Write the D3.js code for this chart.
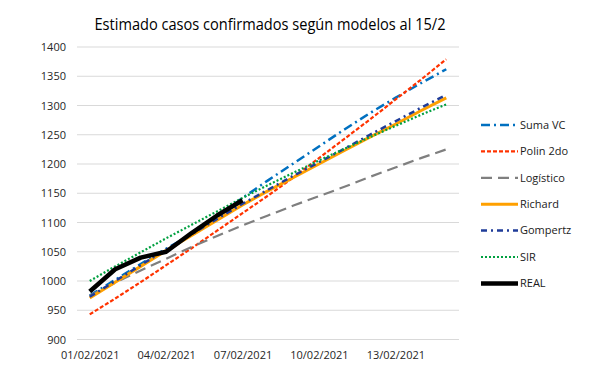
<!DOCTYPE html>
<html>
<head>
<meta charset="utf-8">
<script src="https://cdn.jsdelivr.net/npm/d3@7"></script>
<style>
  body { margin: 0; background: #fff; }
  text { font-family: "Open Sans", sans-serif; }
</style>
</head>
<body>
<div id="chart"></div>
<script>
// dates on the x axis (one per day)
const dates = ["01/02/2021", "02/02/2021", "03/02/2021", "04/02/2021", "05/02/2021",
  "06/02/2021", "07/02/2021", "08/02/2021", "09/02/2021", "10/02/2021",
  "11/02/2021", "12/02/2021", "13/02/2021", "14/02/2021", "15/02/2021"];
const shownDates = ["01/02/2021", "04/02/2021", "07/02/2021", "10/02/2021", "13/02/2021"];
const yTicks = [900, 950, 1000, 1050, 1100, 1150, 1200, 1250, 1300, 1350, 1400];

// series values
const sumaVC   = [975, 1002, 1029, 1055, 1080, 1110, 1142, 1172, 1201, 1230, 1259, 1287, 1313, 1338, 1362];
const polin2do = [943, 970, 998, 1027, 1056, 1086, 1116, 1146, 1177, 1210, 1243, 1276, 1310, 1344, 1379];
const logistico = [975, 997, 1018, 1038, 1058, 1077, 1095, 1112, 1129, 1145, 1161, 1178, 1194, 1210, 1225];
const richard  = [971, 998, 1025, 1052, 1078, 1104, 1130, 1154, 1177, 1200, 1223, 1246, 1268, 1291, 1313];
const gompertz = [973, 1000, 1027, 1054, 1080, 1106, 1132, 1156, 1180, 1203, 1226, 1250, 1273, 1296, 1318];
const sir      = [1000, 1025, 1049, 1073, 1096, 1119, 1142, 1164, 1185, 1206, 1226, 1246, 1265, 1284, 1302];
const real     = [982, 1020, 1040, 1050, 1082, 1112, 1138];

const series = [
  {name: "Suma VC",   values: sumaVC,    color: "#0070c0", width: 2.5, dash: "9,4,2,4"},
  {name: "Polin 2do", values: polin2do,  color: "#ff3300", width: 2.2, dash: "4,2"},
  {name: "Logístico", values: logistico, color: "#7f7f7f", width: 2.2, dash: "11,6"},
  {name: "Richard",   values: richard,   color: "#ffa000", width: 3,   dash: null},
  {name: "Gompertz",  values: gompertz,  color: "#1f3c99", width: 2.5, dash: "6,4,2,4"},
  {name: "SIR",       values: sir,       color: "#00a040", width: 2.2, dash: "2,2"},
  {name: "REAL",      values: real,      color: "#000000", width: 4.5, dash: null}
];

const W = 600, H = 376;
const svg = d3.select("#chart").append("svg")
  .attr("width", W).attr("height", H);

const x = d3.scalePoint().domain(dates).range([77, 459]).padding(0.5);
const y = d3.scaleLinear().domain([900, 1400]).range([339.5, 47]);

// gridlines
svg.append("g")
  .selectAll("line").data(yTicks).join("line")
    .attr("x1", 77).attr("x2", 459)
    .attr("y1", d => y(d)).attr("y2", d => y(d))
    .attr("stroke", "#d9d9d9").attr("stroke-width", 1.2);

// y axis labels
const yAxis = svg.append("g")
  .attr("transform", "translate(70,0)")
  .call(d3.axisLeft(y).tickValues(yTicks).tickFormat(d3.format("d")).tickSize(0).tickPadding(4));
yAxis.select(".domain").remove();
yAxis.selectAll("text")
  .style("font-family", "Open Sans").style("font-size", "11px").attr("fill", "#262626");

// x axis labels
const xAxis = svg.append("g")
  .attr("transform", "translate(0," + 349 + ")")
  .call(d3.axisBottom(x).tickValues(shownDates).tickSize(0).tickPadding(2));
xAxis.select(".domain").remove();
xAxis.selectAll("text")
  .style("font-family", "Open Sans").style("font-size", "11px").attr("fill", "#262626");

// lines
const line = d3.line()
  .x((d, i) => x(dates[i]))
  .y(d => y(d));

svg.append("g")
  .selectAll("path").data(series).join("path")
    .attr("d", d => line(d.values))
    .attr("fill", "none")
    .attr("stroke", d => d.color)
    .attr("stroke-width", d => d.width)
    .attr("stroke-dasharray", d => d.dash)
    .attr("stroke-linejoin", "round");

// title
svg.append("text")
  .attr("x", 270).attr("y", 30)
  .attr("text-anchor", "middle")
  .style("font-size", "16.5px")
  .attr("textLength", 351)
  .attr("lengthAdjust", "spacingAndGlyphs")
  .attr("fill", "#000")
  .text("Estimado casos confirmados según modelos al 15/2");

// legend
const legend = svg.append("g").selectAll("g").data(series).join("g")
  .attr("transform", (d, i) => "translate(481," + (125 + i * 26.4) + ")");
legend.append("line")
  .attr("x1", 0).attr("x2", 37)
  .attr("stroke", d => d.color)
  .attr("stroke-width", d => d.width)
  .attr("stroke-dasharray", d => d.dash);
legend.append("text")
  .attr("x", 39).attr("dy", "0.35em")
  .style("font-size", "11px")
  .attr("fill", "#1a1a1a")
  .text(d => d.name);
</script>
</body>
</html>
